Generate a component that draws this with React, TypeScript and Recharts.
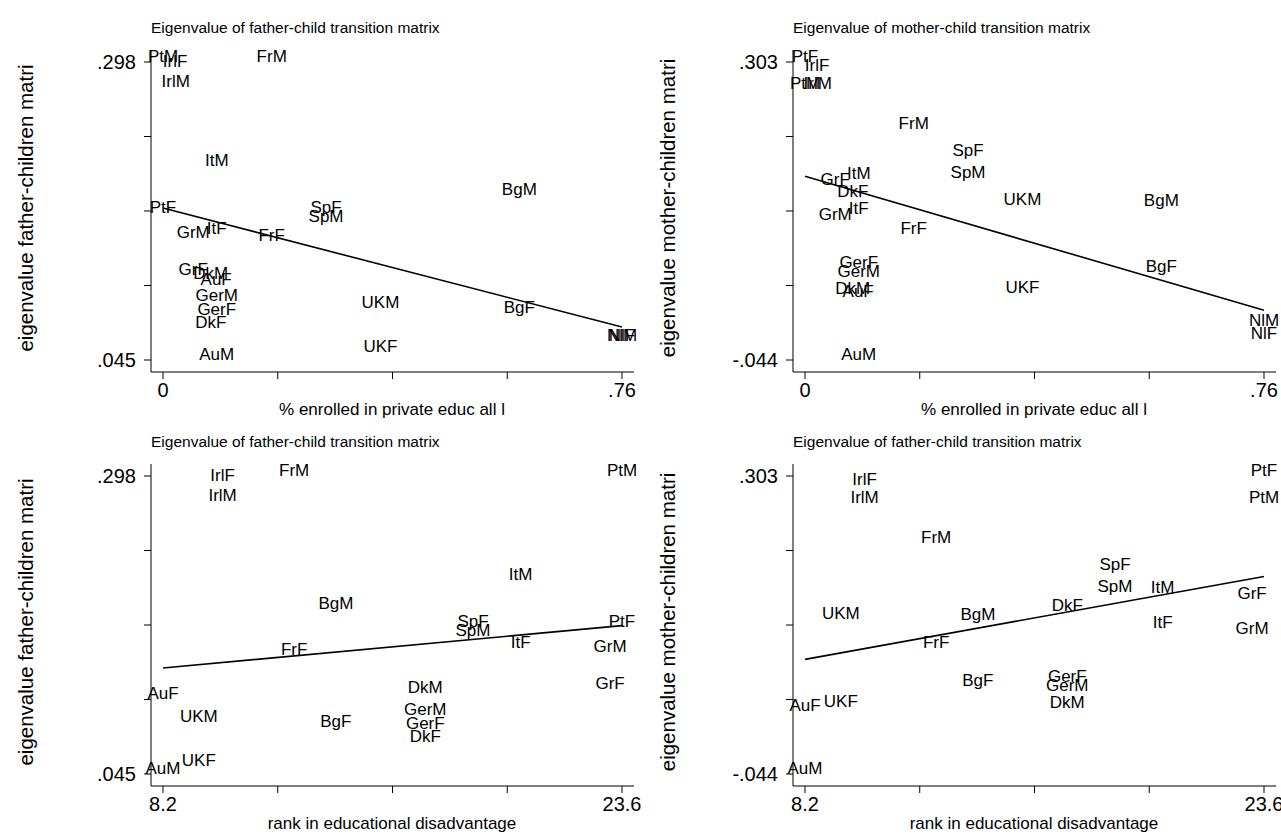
import { ScatterChart, Scatter, XAxis, YAxis } from 'recharts';

// observations: country code + F/M as labelled in the source
const codes = [
  'PtF', 'PtM', 'IrlF', 'IrlM', 'FrF', 'FrM', 'ItF', 'ItM', 'GrF', 'GrM', 'SpF', 'SpM',
  'BgF', 'BgM', 'DkF', 'DkM', 'AuF', 'AuM', 'GerF', 'GerM', 'UKF', 'UKM', 'NlF', 'NlM',
];
const privateShare = [
  0, 0, 0.02, 0.021, 0.18, 0.18, 0.089, 0.089, 0.05, 0.05, 0.27, 0.27,
  0.59, 0.59, 0.079, 0.079, 0.088, 0.089, 0.089, 0.089, 0.36, 0.36, 0.76, 0.76,
];
const rankDisadv = [
  23.6, 23.6, 10.2, 10.2, 12.6, 12.6, 20.2, 20.2, 23.2, 23.2, 18.6, 18.6,
  14.0, 14.0, 17.0, 17.0, 8.2, 8.2, 17.0, 17.0, 9.4, 9.4, null, null,
];
const eigFather = [
  0.17, 0.298, 0.294, 0.277, 0.146, 0.298, 0.152, 0.21, 0.117, 0.149, 0.17, 0.162,
  0.085, 0.185, 0.072, 0.114, 0.109, 0.045, 0.083, 0.095, 0.052, 0.089, 0.061, 0.061,
];
const eigMother = [
  0.303, 0.272, 0.293, 0.272, 0.103, 0.225, 0.126, 0.167, 0.16, 0.119, 0.194, 0.168,
  0.059, 0.135, 0.146, 0.033, 0.029, -0.044, 0.063, 0.053, 0.034, 0.136, -0.02, -0.004,
];

// fitted lines, endpoints
const fitPrivX = [0, 0.76];
const fitRankX = [8.2, 23.6];
const fitFatherPriv = [0.174, 0.073];
const fitMotherPriv = [0.17, 0.014];
const fitFatherRank = [0.135, 0.171];
const fitMotherRank = [0.0895, 0.186];

const privTicks = [0, 0.19, 0.38, 0.57, 0.76];
const privTickText = ['0', '', '', '', '.76'];
const rankTicks = [8.2, 12.05, 15.9, 19.75, 23.6];
const rankTickText = ['8.2', '', '', '', '23.6'];
const fatherTicks = [0.045, 0.10825, 0.1715, 0.23475, 0.298];
const fatherTickText = ['.045', '', '', '', '.298'];
const motherTicks = [-0.044, 0.04275, 0.1295, 0.21625, 0.303];
const motherTickText = ['-.044', '', '', '', '.303'];

const FONT = '"Liberation Sans", Arial, Helvetica, sans-serif';

const makePoints = (xs: (number | null)[], ys: number[]) =>
  codes
    .map((name, i) => ({ name, x: xs[i], y: ys[i] }))
    .filter((p) => p.x !== null);

const makeFit = (xs: number[], ys: number[]) => xs.map((x, i) => ({ x, y: ys[i] }));

const LabelMark = (props: any) => {
  const { cx, cy, payload } = props;
  return (
    <text x={cx} y={cy} textAnchor="middle" fontSize={17} fontFamily={FONT} fill="#000">
      {payload.name}
    </text>
  );
};

type PanelProps = {
  left: number;
  top: number;
  title: string;
  xLabel: string;
  yLabel: string;
  points: { name: string; x: number | null; y: number }[];
  fit: { x: number; y: number }[];
  xDomain: [number, number];
  yDomain: [number, number];
  xTicks: number[];
  xTickText: string[];
  yTicks: number[];
  yTickText: string[];
};

const Panel = (p: PanelProps) => {
  const tickStyle = { fill: '#000', fontSize: 20, fontFamily: FONT };
  return (
    <div style={{ position: 'absolute', left: p.left, top: p.top, width: 660, height: 415 }}>
      <div
        style={{
          position: 'absolute', left: 151, top: 20, fontSize: 15.5, lineHeight: '16px',
          fontFamily: FONT, whiteSpace: 'nowrap', color: '#000',
        }}
      >
        {p.title}
      </div>
      <div
        style={{
          position: 'absolute', left: 25, top: 208, fontSize: 20.5, lineHeight: '21px',
          fontFamily: FONT, whiteSpace: 'nowrap', color: '#000',
          transform: 'translate(-50%, -50%) rotate(-90deg)',
        }}
      >
        {p.yLabel}
      </div>
      <div
        style={{
          position: 'absolute', left: 392, top: 409, fontSize: 17, lineHeight: '17px',
          fontFamily: FONT, whiteSpace: 'nowrap', color: '#000',
          transform: 'translate(-50%, -50%)',
        }}
      >
        {p.xLabel}
      </div>
      <ScatterChart width={660} height={415} margin={{ top: 50, right: 26, bottom: 13, left: 0 }}>
        <XAxis
          dataKey="x"
          type="number"
          domain={p.xDomain}
          ticks={p.xTicks}
          interval={0}
          tickFormatter={(v: number) => p.xTickText[p.xTicks.indexOf(v)] ?? ''}
          tickSize={7}
          tickMargin={4}
          height={30}
          axisLine={{ stroke: '#000' }}
          tickLine={{ stroke: '#000' }}
          tick={tickStyle}
        />
        <YAxis
          dataKey="y"
          type="number"
          domain={p.yDomain}
          ticks={p.yTicks}
          interval={0}
          tickFormatter={(v: number) => p.yTickText[p.yTicks.indexOf(v)] ?? ''}
          tickSize={7}
          tickMargin={8}
          width={151}
          axisLine={{ stroke: '#000' }}
          tickLine={{ stroke: '#000' }}
          tick={tickStyle}
        />
        <Scatter data={p.points} shape={LabelMark} isAnimationActive={false} />
        <Scatter
          data={p.fit}
          line={{ stroke: '#000', strokeWidth: 1.6 }}
          shape={() => <g />}
          isAnimationActive={false}
        />
      </ScatterChart>
    </div>
  );
};

const privDomain: [number, number] = [-0.01987, 0.77987];
const rankDomain: [number, number] = [7.7974, 24.0026];
const fatherDomain: [number, number] = [0.034812, 0.308188];
const motherDomain: [number, number] = [-0.057973, 0.316973];

export default function App() {
  return (
    <div style={{ position: 'absolute', left: 0, top: 0, width: 1281, height: 835, background: '#fff', overflow: 'hidden' }}>
      <Panel
        left={0}
        top={0}
        title="Eigenvalue of father-child transition matrix"
        xLabel="% enrolled in private educ all l"
        yLabel="eigenvalue father-children matri"
        points={makePoints(privateShare, eigFather)}
        fit={makeFit(fitPrivX, fitFatherPriv)}
        xDomain={privDomain}
        yDomain={fatherDomain}
        xTicks={privTicks}
        xTickText={privTickText}
        yTicks={fatherTicks}
        yTickText={fatherTickText}
      />
      <Panel
        left={642}
        top={0}
        title="Eigenvalue of mother-child transition matrix"
        xLabel="% enrolled in private educ all l"
        yLabel="eigenvalue mother-children matri"
        points={makePoints(privateShare, eigMother)}
        fit={makeFit(fitPrivX, fitMotherPriv)}
        xDomain={privDomain}
        yDomain={motherDomain}
        xTicks={privTicks}
        xTickText={privTickText}
        yTicks={motherTicks}
        yTickText={motherTickText}
      />
      <Panel
        left={0}
        top={414}
        title="Eigenvalue of father-child transition matrix"
        xLabel="rank in educational disadvantage"
        yLabel="eigenvalue father-children matri"
        points={makePoints(rankDisadv, eigFather)}
        fit={makeFit(fitRankX, fitFatherRank)}
        xDomain={rankDomain}
        yDomain={fatherDomain}
        xTicks={rankTicks}
        xTickText={rankTickText}
        yTicks={fatherTicks}
        yTickText={fatherTickText}
      />
      <Panel
        left={642}
        top={414}
        title="Eigenvalue of father-child transition matrix"
        xLabel="rank in educational disadvantage"
        yLabel="eigenvalue mother-children matri"
        points={makePoints(rankDisadv, eigMother)}
        fit={makeFit(fitRankX, fitMotherRank)}
        xDomain={rankDomain}
        yDomain={motherDomain}
        xTicks={rankTicks}
        xTickText={rankTickText}
        yTicks={motherTicks}
        yTickText={motherTickText}
      />
    </div>
  );
}
